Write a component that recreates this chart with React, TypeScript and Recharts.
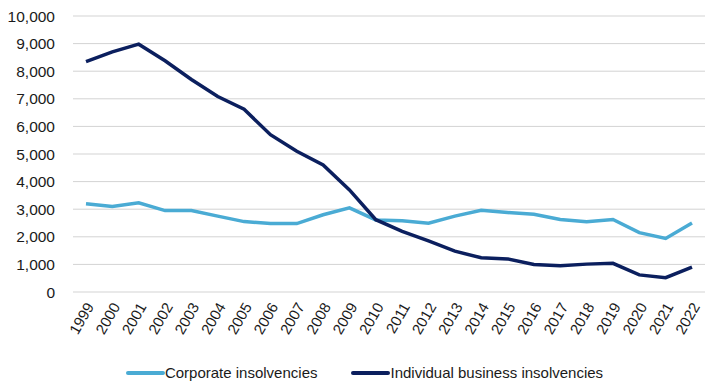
import React from 'react';
import { LineChart, Line, XAxis, YAxis, CartesianGrid, Legend } from 'recharts';

const years = ['1999','2000','2001','2002','2003','2004','2005','2006','2007','2008','2009','2010','2011','2012','2013','2014','2015','2016','2017','2018','2019','2020','2021','2022'];
const corporate = [3200,3100,3230,2950,2950,2750,2550,2480,2480,2800,3050,2610,2580,2490,2750,2960,2880,2820,2630,2550,2630,2150,1940,2500];
const individual = [8350,8700,8980,8380,7700,7080,6620,5700,5100,4600,3700,2620,2200,1850,1480,1240,1200,1000,950,1010,1040,620,520,905];
const yTicks = [0,1000,2000,3000,4000,5000,6000,7000,8000,9000,10000];

const data = years.map((y, i) => ({ year: y, corporate: corporate[i], individual: individual[i] }));

const FONT = '"Liberation Sans", Arial, sans-serif';

const XTick = (props: any) => {
  const { x, y, payload } = props;
  return (
    <g transform={`translate(${x + 4},${y + 4})`}>
      <text x={0} y={0} dy={5} textAnchor="end" transform="rotate(-60)" fill="#1a1a1a" fontSize={15} fontFamily={FONT}>
        {payload.value}
      </text>
    </g>
  );
};

const LegendContent = () => (
  <div style={{ display: 'flex', justifyContent: 'center', fontFamily: FONT, fontSize: 15, color: '#1a1a1a', paddingTop: 12, paddingLeft: 24 }}>
    <div style={{ display: 'flex', alignItems: 'center', marginRight: 34 }}>
      <svg width={39} height={6}><line x1={2} y1={3} x2={37} y2={3} stroke="#4aabd4" strokeWidth={4} strokeLinecap="round" /></svg>
      <span>Corporate insolvencies</span>
    </div>
    <div style={{ display: 'flex', alignItems: 'center' }}>
      <svg width={39} height={6}><line x1={2} y1={3} x2={37} y2={3} stroke="#0b1f5e" strokeWidth={4} strokeLinecap="round" /></svg>
      <span>Individual business insolvencies</span>
    </div>
  </div>
);

export default function App() {
  return (
    <div style={{ position: 'absolute', left: 0, top: 0, background: '#fff' }}>
      <LineChart width={720} height={390} data={data} margin={{ top: 16, right: 15, left: 0, bottom: 0 }}>
        <CartesianGrid vertical={false} stroke="#d3d3d3" />
        <XAxis dataKey="year" interval={0} tickLine={false} axisLine={false} height={60} tick={<XTick />} padding={{ left: 13, right: 13 }} />
        <YAxis domain={[0, 10000]} ticks={yTicks} width={73} tickLine={false} axisLine={false}
          tickFormatter={(v: number) => v.toLocaleString('en-US')}
          tick={{ fill: '#1a1a1a', fontSize: 15.5, fontFamily: FONT }} tickMargin={12} />
        <Legend verticalAlign="bottom" height={38} content={<LegendContent />} />
        <Line type="linear" dataKey="corporate" stroke="#4aabd4" strokeWidth={3.5} dot={false} isAnimationActive={false} />
        <Line type="linear" dataKey="individual" stroke="#0b1f5e" strokeWidth={3.5} dot={false} isAnimationActive={false} />
      </LineChart>
    </div>
  );
}
